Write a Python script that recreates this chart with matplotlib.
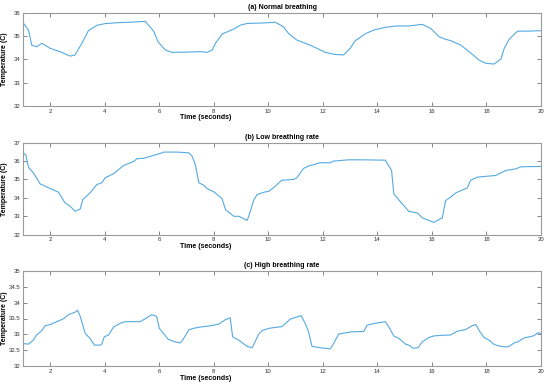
import matplotlib
matplotlib.use("Agg")
import matplotlib.pyplot as plt
from matplotlib import font_manager

names = {f.name for f in font_manager.fontManager.ttflist}
fam = ["Liberation Sans Narrow", "Liberation Sans", "DejaVu Sans"]
fam = [f for f in fam if f in names] or ["DejaVu Sans"]
plt.rcParams["font.family"] = fam

# (a) Normal breathing
t_a = [1.0, 1.2, 1.32, 1.5, 1.69, 2.0, 2.36, 2.73, 2.91, 3.16, 3.4, 3.71, 4.0, 4.44, 5.06, 5.49,
       5.8, 5.95, 6.22, 6.47, 7.02, 7.51, 7.76, 7.94, 8.06, 8.31, 8.73, 8.98, 9.23, 9.84, 10.26,
       10.55, 10.74, 11.04, 11.53, 11.84, 12.09, 12.45, 12.76, 13.0, 13.19, 13.56, 13.87, 14.29,
       14.66, 15.15, 15.64, 15.95, 16.26, 16.5, 16.69, 17.06, 17.36, 17.73, 17.98, 18.28, 18.53,
       18.65, 18.83, 19.14, 19.57, 20.0]
v_a = [35.57, 35.26, 34.61, 34.54, 34.69, 34.47, 34.33, 34.14, 34.19, 34.69, 35.23, 35.46, 35.53,
       35.57, 35.6, 35.63, 35.19, 34.76, 34.4, 34.3, 34.31, 34.33, 34.3, 34.4, 34.69, 35.09, 35.3,
       35.47, 35.54, 35.56, 35.59, 35.4, 35.11, 34.83, 34.61, 34.44, 34.3, 34.21, 34.19, 34.47,
       34.8, 35.1, 35.26, 35.37, 35.43, 35.43, 35.5, 35.33, 34.97, 34.86, 34.8, 34.61, 34.33,
       33.97, 33.83, 33.8, 34.01, 34.47, 34.86, 35.21, 35.21, 35.23]

# (b) Low breathing rate
t_b = [1.0, 1.1, 1.2, 1.38, 1.63, 2.0, 2.3, 2.54, 2.73, 2.91, 3.1, 3.19, 3.46, 3.71, 3.89, 4.01,
       4.32, 4.69, 5.06, 5.18, 5.42, 6.04, 6.16, 6.65, 7.08, 7.2, 7.32, 7.45, 7.63, 7.75, 8.0,
       8.18, 8.3, 8.43, 8.73, 8.92, 9.22, 9.28, 9.47, 9.59, 9.84, 10.02, 10.26, 10.49, 10.92,
       11.04, 11.29, 11.47, 11.9, 12.27, 12.39, 12.94, 13.44, 14.29, 14.52, 14.6, 14.85, 15.15,
       15.47, 15.65, 16.07, 16.26, 16.38, 16.5, 16.69, 16.87, 17.3, 17.42, 17.67, 18.34, 18.71,
       19.08, 19.26, 20.0]
v_b = [36.42, 36.36, 35.67, 35.36, 34.76, 34.51, 34.31, 33.73, 33.55, 33.27, 33.4, 33.91, 34.27,
       34.73, 34.82, 35.09, 35.31, 35.76, 35.98, 36.13, 36.15, 36.42, 36.49, 36.49, 36.45, 36.27,
       35.82, 34.82, 34.69, 34.51, 34.33, 34.11, 33.96, 33.36, 33.0, 33.0, 32.78, 33.0, 33.91,
       34.18, 34.31, 34.36, 34.64, 34.96, 35.0, 35.09, 35.6, 35.73, 35.91, 35.91, 36.0, 36.07,
       36.07, 36.05, 35.49, 34.22, 33.78, 33.27, 33.18, 32.91, 32.67, 32.82, 32.91, 33.85, 34.05,
       34.27, 34.55, 34.96, 35.13, 35.22, 35.49, 35.58, 35.69, 35.71]

# (c) High breathing rate
t_c = [1.0, 1.2, 1.38, 1.5, 1.69, 1.81, 2.0, 2.24, 2.48, 2.67, 2.91, 3.0, 3.1, 3.28, 3.46, 3.62,
       3.83, 3.89, 3.98, 4.14, 4.32, 4.57, 4.75, 5.3, 5.48, 5.72, 5.9, 6.0, 6.15, 6.33, 6.58, 6.77,
       6.86, 7.08, 7.26, 7.5, 7.87, 8.17, 8.42, 8.6, 8.69, 8.91, 9.22, 9.41, 9.53, 9.65, 9.77,
       10.02, 10.26, 10.49, 10.8, 11.2, 11.35, 11.47, 11.6, 11.96, 12.27, 12.36, 12.58, 12.7,
       13.07, 13.5, 13.62, 13.93, 14.29, 14.42, 14.6, 14.79, 15.03, 15.15, 15.3, 15.5, 15.64,
       15.89, 16.07, 16.38, 16.69, 16.93, 17.24, 17.42, 17.61, 17.73, 17.91, 18.09, 18.28, 18.47,
       18.71, 18.83, 19.02, 19.14, 19.39, 19.57, 19.75, 19.88, 20.0]
v_c = [32.71, 32.69, 32.82, 32.98, 33.12, 33.27, 33.31, 33.4, 33.49, 33.62, 33.7, 33.76, 33.57,
       33.03, 32.87, 32.66, 32.66, 32.69, 32.92, 32.98, 33.23, 33.35, 33.4, 33.4, 33.49, 33.62,
       33.57, 33.19, 33.03, 32.84, 32.76, 32.73, 32.82, 33.14, 33.19, 33.23, 33.27, 33.32, 33.46,
       33.52, 32.92, 32.82, 32.62, 32.58, 32.8, 33.01, 33.12, 33.19, 33.22, 33.24, 33.48, 33.59,
       33.35, 33.09, 32.62, 32.57, 32.54, 32.66, 33.01, 33.03, 33.08, 33.09, 33.29, 33.35, 33.4,
       33.23, 32.95, 32.87, 32.69, 32.66, 32.56, 32.58, 32.76, 32.9, 32.95, 32.97, 32.98, 33.1,
       33.15, 33.25, 33.31, 33.12, 32.9, 32.82, 32.68, 32.63, 32.6, 32.62, 32.73, 32.76, 32.89,
       32.92, 32.96, 33.05, 33.03]

titles = ["(a) Normal breathing", "(b) Low breathing rate", "(c) High breathing rate"]
x_ticks = [2, 4, 6, 8, 10, 12, 14, 16, 18, 20]
y_ticks_a = [32, 33, 34, 35, 36]
y_ticks_b = [32, 33, 34, 35, 36, 37]
y_ticks_c = [32, 32.5, 33, 33.5, 34, 34.5, 35]
y_labels_c = ["32", "32.5", "33", "33.5", "34", "34.5", "35"]

W, H = 550, 384
fig = plt.figure(figsize=(5.5, 3.84), dpi=100)
boxes = [(12.7, 106.0), (142.7, 234.7), (271.0, 366.0)]
left_px, right_px = 23.0, 541.0
series = [(t_a, v_a, y_ticks_a, None), (t_b, v_b, y_ticks_b, None), (t_c, v_c, y_ticks_c, y_labels_c)]
line_color = "#55aae2"
spine_color = "#9a9a9a"
for (top, bot), (t, v, yt, yl), title in zip(boxes, series, titles):
    ax = fig.add_axes([left_px / W, 1 - bot / H, (right_px - left_px) / W, (bot - top) / H])
    ax.plot(t, v, color=line_color, lw=0.8)
    ax.set_xlim(1, 20)
    ax.set_ylim(yt[0], yt[-1])
    ax.set_xticks(x_ticks)
    ax.set_yticks(yt)
    if yl:
        ax.set_yticklabels(yl)
    for s in ax.spines.values():
        s.set_color(spine_color)
        s.set_linewidth(0.8)
    ax.tick_params(direction="in", length=3, width=0.5, color="#555555", labelsize=4.3,
                   labelcolor="#333333", top=True, right=True, pad=2)
    ax.set_title(title, fontsize=5, fontweight="bold", pad=3)
    ax.set_xlabel("Time (seconds)", fontsize=5, fontweight="bold", labelpad=1)
    ax.xaxis.set_label_coords((206 - left_px) / (right_px - left_px), -0.09)
    ax.set_ylabel("Temperature (C)", fontsize=5, fontweight="bold")
    ax.yaxis.set_label_coords((8.5 - left_px) / (right_px - left_px), 0.5)

fig.savefig("out.png", dpi=100)
